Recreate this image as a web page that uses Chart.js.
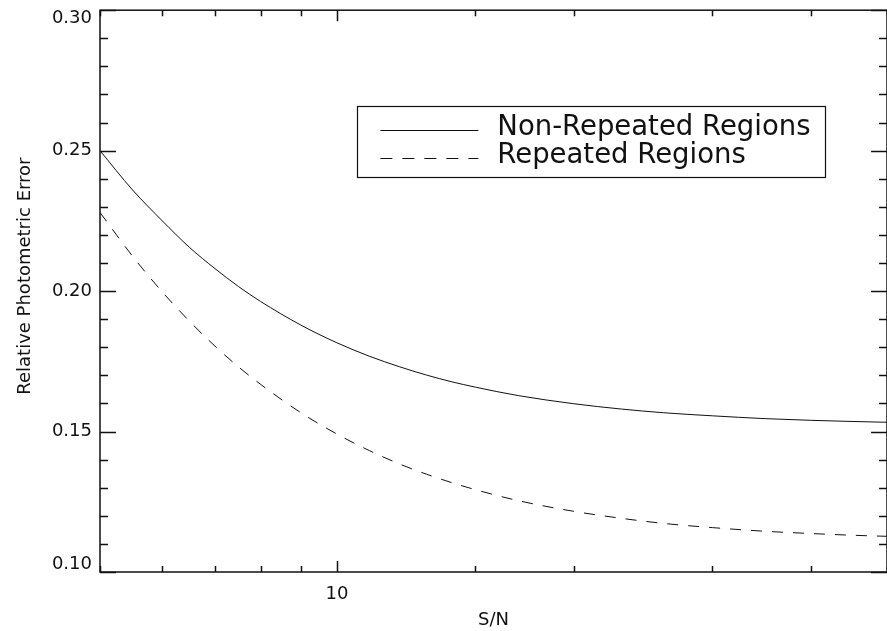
<!DOCTYPE html>
<html>
<head>
<meta charset="utf-8">
<script src="https://cdn.jsdelivr.net/npm/chart.js@4.4.1/dist/chart.umd.min.js"></script>
<style>
  html, body { margin: 0; padding: 0; background: #fff; }
  #wrap { width: 887px; height: 631px; }
</style>
</head>
<body>
<div id="wrap"><canvas id="chart"></canvas></div>
<script>
// values
const snr = [5, 5.5, 6, 6.5, 7, 7.5, 8, 9, 10, 11, 12, 13, 14, 15, 17, 20, 23, 26, 30, 35, 40, 45, 50];
const nonRepeated = [0.250, 0.236, 0.225, 0.2155, 0.208, 0.2016, 0.1963, 0.1879, 0.1816, 0.1768, 0.1731, 0.1701,
  0.1677, 0.1658, 0.1628, 0.1599, 0.1580, 0.1567, 0.1556, 0.1546, 0.1540, 0.1536, 0.1533];
const repeated = [0.228, 0.2124, 0.1997, 0.1892, 0.1804, 0.1730, 0.1668, 0.1567, 0.1491, 0.1432, 0.1385, 0.1348,
  0.1318, 0.1293, 0.1254, 0.1216, 0.1191, 0.1173, 0.1158, 0.1145, 0.1137, 0.1131, 0.1127];
const seriesLabels = ['Non-Repeated Regions', 'Repeated Regions'];
const xLabeled = [10];
const yMin = 0.1;
const yMax = 0.3;
const yTitle = 'Relative Photometric Error';
const FONT = 'DejaVu Sans';
const INK = '#111';

const isMajorY = (v) => Math.abs(v * 20 - Math.round(v * 20)) < 1e-6;
const near = (a, b) => Math.abs(a - b) < 1e-6;

// IDL style box: inward ticks on all four sides + boxed legend
const idlFrame = {
  id: 'idlFrame',
  afterDraw(chart) {
    const { ctx, chartArea: a, scales } = chart;
    ctx.save();
    ctx.strokeStyle = INK;
    ctx.lineWidth = 1.5;
    ctx.strokeRect(a.left, a.top, a.right - a.left, a.bottom - a.top);

    ctx.beginPath();
    scales.y.ticks.forEach((t) => {
      const y = Math.round(scales.y.getPixelForValue(t.value)) + 0.5;
      const len = isMajorY(t.value) ? 16 : 8;
      ctx.moveTo(a.left, y); ctx.lineTo(a.left + len, y);
      ctx.moveTo(a.right, y); ctx.lineTo(a.right - len, y);
    });
    scales.x.ticks.forEach((t) => {
      const x = Math.round(scales.x.getPixelForValue(t.value)) + 0.5;
      const len = xLabeled.includes(t.value) ? 11 : 6;
      ctx.moveTo(x, a.bottom); ctx.lineTo(x, a.bottom - len);
      ctx.moveTo(x, a.top); ctx.lineTo(x, a.top + len);
    });
    ctx.stroke();

    // y title (sits a bit above the axis middle in the original)
    ctx.save();
    ctx.translate(25, (a.top + a.bottom) / 2 - 15);
    ctx.rotate(-Math.PI / 2);
    ctx.font = '18px "' + FONT + '"';
    ctx.fillStyle = INK;
    ctx.textAlign = 'center';
    ctx.textBaseline = 'middle';
    ctx.fillText(yTitle, 0, 0);
    ctx.restore();

    // legend box
    const w = a.right - a.left, h = a.bottom - a.top;
    const bx = a.left + 0.327 * w, bw = 0.595 * w;
    const by = a.top + 0.171 * h, bh = 71;
    ctx.lineWidth = 1.2;
    ctx.strokeRect(Math.round(bx) + 0.5, Math.round(by) + 0.5, Math.round(bw), bh);
    ctx.font = '27.5px "' + FONT + '"';
    ctx.fillStyle = INK;
    ctx.textBaseline = 'middle';
    chart.data.datasets.forEach((ds, i) => {
      const ly = Math.round(by + 24 + i * 28) + 0.5;
      ctx.beginPath();
      ctx.lineWidth = 1;
      ctx.setLineDash(ds.borderDash ? [12, 10] : []);
      ctx.moveTo(bx + 23, ly); ctx.lineTo(bx + 121, ly);
      ctx.stroke();
      ctx.setLineDash([]);
      ctx.fillText(ds.label, bx + 140, ly - 3);
    });
    ctx.restore();
  },
};

new Chart(document.getElementById('chart'), {
  type: 'line',
  data: {
    datasets: [
      {
        label: seriesLabels[0],
        data: snr.map((x, i) => ({ x, y: nonRepeated[i] })),
        borderColor: INK,
        borderWidth: 1,
        pointRadius: 0,
        cubicInterpolationMode: 'monotone',
      },
      {
        label: seriesLabels[1],
        data: snr.map((x, i) => ({ x, y: repeated[i] })),
        borderColor: INK,
        borderWidth: 1,
        borderDash: [11, 10],
        pointRadius: 0,
        cubicInterpolationMode: 'monotone',
      },
    ],
  },
  plugins: [idlFrame],
  options: {
    responsive: true,
    maintainAspectRatio: false,
    animation: false,
    layout: { padding: 0 },
    plugins: {
      legend: { display: false },
      tooltip: { enabled: false },
    },
    scales: {
      x: {
        type: 'logarithmic',
        min: 5,
        max: 50,
        border: { display: false },
        // transparent grid: only used to space the labels off the axis
        grid: { display: true, color: 'rgba(0,0,0,0)', drawOnChartArea: false, drawTicks: true, tickLength: 12 },
        ticks: {
          autoSkip: false,
          maxRotation: 0,
          padding: 0,
          color: INK,
          font: { family: FONT, size: 18 },
          callback: (v) => (xLabeled.includes(v) ? String(v) : ''),
        },
        title: {
          display: true,
          text: 'S/N',
          color: INK,
          font: { family: FONT, size: 18 },
          padding: { top: 2, bottom: 0 },
        },
        afterFit(scale) { scale.height = 59; },
      },
      y: {
        min: yMin,
        max: yMax,
        border: { display: false },
        grid: { display: true, color: 'rgba(0,0,0,0)', drawOnChartArea: false, drawTicks: true, tickLength: 14 },
        ticks: {
          stepSize: 0.01,
          autoSkip: false,
          padding: -6,
          color: INK,
          font: { family: FONT, size: 18, lineHeight: 0.9 },
          // end labels are kept inside the axis range, like IDL does
          callback: (v) => {
            if (!isMajorY(v)) return '';
            const s = v.toFixed(2);
            if (near(v, yMax)) return ['', s];
            if (near(v, yMin)) return [s, ''];
            return s;
          },
        },
        title: { display: false, text: yTitle },
        afterFit(scale) { scale.width = 100; },
      },
    },
  },
});
</script>
</body>
</html>
